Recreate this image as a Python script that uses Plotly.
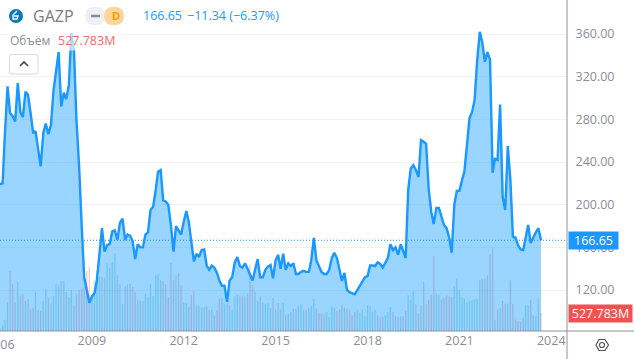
import pandas as pd
import plotly.graph_objects as go

W, H = 634, 359
PLOT_R, PLOT_B = 567, 331

# Monthly closes, starting January 2006
price = [219.4,220,267,311,286,283,278,314,287,282,306,303,286,267,269,251,236,267,276,266,
 275,307,326,343,292,305,299,312,361,345,279,237,181,132,120,108,114,117,129,153,
 178,156,162,163,175,176,167,183,187,167,172,171,166,149,163,160,160,172,174,195,
 198,214,231,232.5,204,203,200,181,156,180,176,172,184,194,184,167,147,154,151,157.5,
 158,143,139,143,141,136,129,124,124,109,129,132,146,151,142.5,141,145,140,135,129,
 139,149,132,132,139,142,143.5,131,148,153,140,154,139,145,142.5,145,135,135,137,138,
 137,137,148,169,148,141.5,137,135,135,139,150,155,150,139,128.5,136,120,118,117,116,
 120,124,129,132,133,143,143,142.5,146,144.5,141,146,150,163,157.5,160,153,163,157.5,150,
 214,234,237,232.5,226,260.6,259,257,214,193,182,197,197,187.5,181,178,169,155,200,213,
 213,223,231,256,281,287,298,335.6,362,352,334,343,336,230,243,242,294,207,195,255,
 223,170,169,162,158,157.5,170,181,164,170,174,178,166.65]

# Monthly volume in millions of shares
volume = [70,166,332,850,1759,1368,850,1436,1016,1075,879,928,625,674,1143,606,586,879,1241,977,
 821,1016,1368,1338,1465,1465,1143,996,1192,752,1075,1192,1241,1290,1759,1876,1094,1485,1759,1583,
 1583,1563,1993,1856,2022,2286,1632,1387,782,1309,1368,1387,1290,1143,899,879,879,1094,996,1368,
 1016,1632,1661,1485,1465,1368,996,1993,1485,1632,1700,1338,840,821,703,1045,1172,752,723,684,
 703,723,625,625,459,606,948,967,801,801,752,625,1016,1065,1016,1016,1016,1094,1954,1338,
 1143,879,996,840,782,821,674,967,625,821,625,821,459,508,547,645,645,723,782,625,
 625,684,723,938,655,537,508,479,557,410,723,684,586,625,752,684,655,606,459,557,
 625,528,625,430,752,723,557,625,459,410,430,459,557,703,557,430,410,430,430,586,
 1045,918,1172,782,528,752,1436,782,918,1045,2188,1094,1045,918,977,1045,1016,996,1309,1544,
 1211,996,948,850,879,899,918,938,1485,1534,1534,1632,2247,2423,332,625,684,879,801,801,
 1485,782,332,293,264,391,752,752,899,459,430,957,527.783]

dates = pd.date_range("2006-01-01", periods=len(price), freq="MS")
price_ticks = [120, 160, 200, 240, 280, 320, 360]
year_ticks = ["2009-01-01", "2012-01-01", "2015-01-01", "2018-01-01", "2021-01-01", "2024-01-01"]
year_labels = ["2009", "2012", "2015", "2018", "2021", "2024"]
first_year_label = "2006"

UP = "rgba(38,166,154,0.30)"
DOWN = "rgba(239,83,80,0.32)"
bar_colors = [DOWN if i and price[i] < price[i - 1] else UP for i in range(len(price))]
bar_colors[-1] = DOWN

BLUE = "#1a98ff"
FONT = "Open Sans"
GRAY = "#787b86"


def px(x):
    return x / W


def py(y):
    return 1 - y / H


def path(points, close=False):
    d = "M" + " L".join(f"{px(x):.5f},{py(y):.5f}" for x, y in points)
    return d + (" Z" if close else "")


def rrect(x0, y0, x1, y1, r):
    c = lambda x, y: f"{px(x):.5f},{py(y):.5f}"
    return (f"M{c(x0+r,y0)} L{c(x1-r,y0)} Q{c(x1,y0)} {c(x1,y0+r)} L{c(x1,y1-r)} Q{c(x1,y1)} {c(x1-r,y1)} "
            f"L{c(x0+r,y1)} Q{c(x0,y1)} {c(x0,y1-r)} L{c(x0,y0+r)} Q{c(x0,y0)} {c(x0+r,y0)} Z")


def pshape(d, fill="rgba(0,0,0,0)", line="rgba(0,0,0,0)", lw=0):
    return dict(type="path", xref="paper", yref="paper", path=d, fillcolor=fill,
                line=dict(color=line, width=lw), layer="above")


def note(x, y, text, color, size=12, **kw):
    return dict(xref="paper", yref="paper", x=px(x), y=py(y), text=text, showarrow=False,
                xanchor=kw.pop("xanchor", "left"), yanchor="middle",
                font=dict(family=FONT, size=size, color=color), **kw)


fig = go.Figure()
fig.add_bar(x=dates, y=volume, marker=dict(color=bar_colors, line_width=0), yaxis="y", hoverinfo="skip")
fig.add_scatter(x=dates, y=price, mode="lines", yaxis="y2", line=dict(color=BLUE, width=2.4),
                fill="tozeroy", fillcolor="rgba(0,150,255,0.40)", hoverinfo="skip")

shapes = [
    dict(type="line", xref="paper", yref="y2", x0=0, x1=px(PLOT_R), y0=price[-1], y1=price[-1],
         line=dict(color=BLUE, width=1, dash="1px,2px"), layer="above"),
    dict(type="rect", xref="paper", yref="paper", x0=px(PLOT_R), x1=1, y0=0, y1=1,
         fillcolor="white", line_width=0, layer="below"),
    dict(type="line", xref="paper", yref="paper", x0=px(PLOT_R), x1=px(PLOT_R), y0=0, y1=1,
         line=dict(color="#8f929b", width=1), layer="above"),
    dict(type="line", xref="paper", yref="paper", x0=0, x1=1, y0=py(PLOT_B), y1=py(PLOT_B),
         line=dict(color="#8f929b", width=1), layer="above"),
    pshape(rrect(85, 7, 105, 25, 9), fill="#eef0f5"),
    pshape(rrect(104, 7, 124, 25, 9), fill="#ffd699"),
    pshape(path([(91, 16), (100, 16)]), line="#8a8d96", lw=2.5),
    dict(type="circle", xref="paper", yref="paper", x0=px(9), x1=px(23), y0=py(23), y1=py(9),
         fillcolor="#0b78b8", line_width=0, layer="above"),
    pshape(path([(17, 11), (13, 15), (13, 19), (17, 19), (18, 16), (14, 16)]), line="white", lw=1.3),
    pshape(rrect(9.5, 54.5, 38, 74, 2.5), fill="white", line="#d6d8e0", lw=1),
    pshape(path([(20, 66), (24, 62), (28, 66)]), line="#444", lw=1.6),
    pshape(path([(596, 345), (599, 339.5), (605, 339.5), (608.5, 345), (605, 350.5), (599, 350.5)], close=True),
           line="#555", lw=1.2),
    dict(type="circle", xref="paper", yref="paper", x0=px(599.5), x1=px(604.5), y0=py(347.5), y1=py(342.5),
         line=dict(color="#555", width=1.2), layer="above"),
]

annotations = [
    note(31, 16, "GAZP", GRAY, 16),
    note(110, 16, "<b>D</b>", "#ff9800", 11),
    note(141, 16, "166.65", BLUE, 12.5),
    note(185, 16, "−11.34 (−6.37%)", BLUE, 12.5),
    note(8, 40.5, "Объём", "#8a8d96", 12, bgcolor="rgba(255,255,255,0.65)"),
    note(56, 40.5, "527.783M", "#f46a6a", 12.5, bgcolor="rgba(255,255,255,0.65)"),
    note(568, 240.5, "166.65", "white", 12.5, bgcolor=BLUE, borderpad=1, width=47, height=15, align="center"),
    note(568, 313, "527.783M", "white", 12.5, bgcolor="#ef5350", borderpad=1, width=61, height=15, align="center"),
    note(0, 344, first_year_label, "#8a8d96", 12.5, xanchor="center"),
]

fig.update_layout(
    width=W, height=H, margin=dict(l=0, r=0, t=0, b=0, autoexpand=False),
    paper_bgcolor="white", plot_bgcolor="white", showlegend=False, bargap=0.45,
    font=dict(family=FONT, color=GRAY, size=12),
    xaxis=dict(type="date", domain=[0, PLOT_R / W], range=["2006-01-01", "2024-07-07"],
               tickmode="array", tickvals=year_ticks, ticktext=year_labels, showgrid=False,
               zeroline=False, ticks="", tickfont=dict(size=12.5, color="#8a8d96"), ticklabelposition="outside"),
    yaxis=dict(domain=[1 - PLOT_B / H, 1], range=[0, 9700], visible=False, fixedrange=True),
    yaxis2=dict(domain=[1 - PLOT_B / H, 1], overlaying="y", side="right", anchor="x",
                range=[81.6, 391.9], tickmode="array", tickvals=price_ticks,
                tickformat=".2f", gridcolor="#f0f3fa", gridwidth=1, zeroline=False,
                ticks="outside", ticklen=5, tickcolor="rgba(0,0,0,0)",
                tickfont=dict(size=12.5, color="#8a8d96"), showline=False),
    shapes=shapes, annotations=annotations,
)

fig.write_html("out.html", config=dict(displayModeBar=False),
               post_script="document.body.style.margin='0';document.documentElement.style.overflow='hidden';")
